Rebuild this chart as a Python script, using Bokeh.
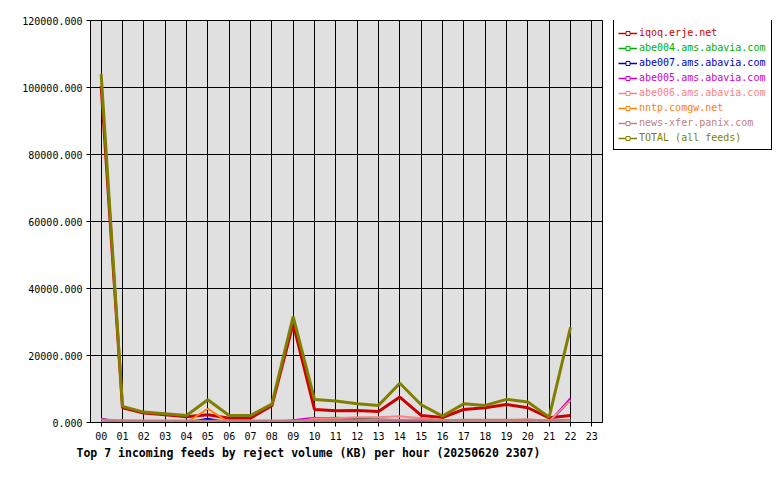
from bokeh.plotting import figure
from bokeh.layouts import row
from bokeh.models import ColumnDataSource, Legend, LegendItem, FixedTicker, Title, Range1d
from bokeh.embed import file_html
from bokeh.resources import INLINE

# ---- data ----
hours = list(range(23))
tick_hours = list(range(24))
hour_labels = ["%02d" % h for h in range(24)]
y_ticks = [0, 20000, 40000, 60000, 80000, 100000, 120000]
y_tick_labels = ["0.000", "20000.000", "40000.000", "60000.000", "80000.000", "100000.000", "120000.000"]

names = ["iqoq.erje.net", "abe004.ams.abavia.com", "abe007.ams.abavia.com",
         "abe005.ams.abavia.com", "abe006.ams.abavia.com", "nntp.comgw.net",
         "news-xfer.panix.com", "TOTAL (all feeds)"]
colors = ["#cc0000", "#00b000", "#0000cc", "#cc00cc", "#ff8080", "#ff8000", "#c08080", "#808000"]

iqoq = [100500, 4400, 2800, 2300, 1700, 2300, 1300, 1300, 5000, 29500, 3900, 3500,
        3600, 3300, 7600, 2100, 1500, 3900, 4400, 5400, 4400, 1400, 2100]
abe004 = [1100, 0, 0, 0, 0, 0, 0, 0, 0, 0, 1200, 1400, 1200, 900, 700, 500, 300,
          300, 300, 300, 300, 0, 0]
abe007 = [0, 0, 0, 0, 0, 1100, 0, 0, 0, 0, 0, 0, 0, 0, 0, 0, 0, 0, 0, 0, 0, 0, 6800]
abe005 = [1100, 0, 0, 0, 0, 0, 0, 0, 0, 700, 1400, 1000, 900, 800, 700, 600, 400,
          300, 300, 300, 300, 0, 7300]
abe006 = [0, 0, 0, 0, 0, 0, 0, 0, 0, 0, 1200, 1300, 1600, 1600, 1900, 1300, 800,
          500, 500, 600, 1000, 300, 6600]
nntp = [0, 0, 0, 0, 0, 4100, 0, 0, 0, 0, 0, 0, 0, 0, 0, 0, 0, 300, 300, 300, 300, 0, 0]
newsxfer = [800, 700, 600, 600, 600, 500, 600, 600, 600, 600, 700, 700, 700, 800, 800,
            800, 700, 800, 800, 800, 800, 700, 800]
total = [104000, 4800, 3100, 2600, 2100, 6800, 2100, 2100, 5500, 31600, 6900, 6400,
         5600, 5100, 11700, 5300, 1900, 5600, 5100, 6900, 6100, 1600, 28400]

series = [iqoq, abe004, abe007, abe005, abe006, nntp, newsxfer, total]
widths = [3, 2, 2, 2, 2, 2, 2, 3]

MONO = "DejaVu Sans Mono"
H = 470
NAN = float("nan")

p = figure(width=610, height=H, output_backend="svg", toolbar_location=None,
           x_range=Range1d(-0.5, 23.5), y_range=Range1d(0, 120000),
           min_border_left=90, min_border_right=8, min_border_top=20, min_border_bottom=48)
p.background_fill_color = "#e0e0e0"
p.border_fill_color = "white"
p.outline_line_color = "black"
p.outline_line_width = 1

p.xaxis.ticker = FixedTicker(ticks=tick_hours)
p.xaxis.major_label_overrides = {h: lab for h, lab in zip(tick_hours, hour_labels)}
p.yaxis.ticker = FixedTicker(ticks=y_ticks)
p.yaxis.major_label_overrides = {t: lab for t, lab in zip(y_ticks, y_tick_labels)}
for ax in (p.xaxis, p.yaxis):
    ax.axis_line_color = "black"
    ax.major_tick_line_color = "black"
    ax.major_tick_out = 4
    ax.major_tick_in = 0
    ax.minor_tick_line_color = None
    ax.major_label_text_font = MONO
    ax.major_label_text_font_size = "10px"
    ax.major_label_text_color = "black"
p.xaxis.major_label_standoff = 5
p.yaxis.major_label_standoff = 4

p.xgrid.ticker = FixedTicker(ticks=tick_hours)
p.ygrid.ticker = FixedTicker(ticks=y_ticks)
for g in (p.xgrid, p.ygrid):
    g.grid_line_color = "black"
    g.grid_line_alpha = 1
    g.grid_line_width = 1

for vals, col, w in zip(series, colors, widths):
    src = ColumnDataSource(dict(x=hours, y=vals))
    p.line("x", "y", source=src, line_color=col, line_width=w)

t = Title(text="Top 7 incoming feeds by reject volume (KB) per hour (20250620 2307)",
          align="left", text_font=MONO, text_font_size="11.5px", text_font_style="bold",
          text_color="black", offset=-14, standoff=3)
p.add_layout(t, "below")

# ---- legend panel (its frame is aligned with the main frame: y from 20 to 422) ----
lf = figure(width=170, height=H, output_backend="svg", toolbar_location=None,
            x_axis_location=None, y_axis_location=None, min_border=0,
            x_range=Range1d(0, 1), y_range=Range1d(0, 1))
lf.outline_line_color = None
lf.background_fill_color = "white"
lf.border_fill_color = "white"
lf.grid.visible = False

common = dict(padding=5, spacing=0, margin=0, glyph_width=19, glyph_height=10,
              label_height=15, label_standoff=2, label_text_font=MONO,
              label_text_font_size="10px")

nan_src = ColumnDataSource(dict(x=[NAN], y=[NAN]))

dummy = lf.line("x", "y", source=nan_src, line_alpha=0)
box_bottom = 272
box = Legend(items=[LegendItem(label=n, renderers=[dummy]) for n in names],
             location=(3, box_bottom), label_text_alpha=0, border_line_color="black",
             border_line_alpha=1, border_line_width=1,
             background_fill_color="white", background_fill_alpha=1, **common)
lf.add_layout(box, "center")

for i, (n, col) in enumerate(zip(names, colors)):
    lr = lf.line("x", "y", source=nan_src, line_color=col, line_width=1.5)
    mr = lf.scatter("x", "y", source=nan_src, marker="square", size=4, line_color=col,
                    fill_color="white", line_width=1)
    lg = Legend(items=[LegendItem(label=n, renderers=[lr, mr])],
                location=(3, box_bottom + (7 - i) * 15), label_text_color=col,
                border_line_alpha=0, background_fill_alpha=0, **common)
    lf.add_layout(lg, "center")

open("out.html", "w").write(file_html(row(p, lf), INLINE))
